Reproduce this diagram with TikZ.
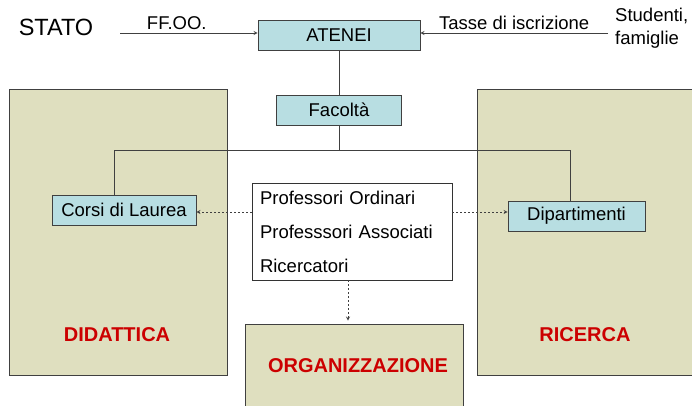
\documentclass[tikz,border=0pt]{standalone}
\usepackage{fontspec}
\setmainfont{Liberation Sans}
\usetikzlibrary{shapes.geometric, arrows, positioning}
\definecolor{boxblue}{RGB}{184,222,226}
\definecolor{areaolive}{RGB}{223,223,191}
\definecolor{areared}{RGB}{204,0,0}
\tikzstyle{txt} = [inner sep=2pt, font=\fontsize{18.5}{23}\selectfont]
\tikzstyle{unit} = [rectangle, minimum height=30pt, text centered, draw=black!75, line width=0.8pt, fill=boxblue, font=\fontsize{18.5}{23}\selectfont]
\tikzstyle{area} = [rectangle, minimum width=218pt, minimum height=286pt, draw=black!75, line width=0.8pt, fill=areaolive]
\tikzstyle{areatitle} = [text=areared, font=\fontsize{20}{24}\selectfont\bfseries]
\tikzstyle{staff} = [rectangle, minimum width=200pt, minimum height=97pt, text width=184pt, align=left, draw=black!80, line width=0.8pt, fill=white, font=\fontsize{18.5}{34}\selectfont]
\tikzstyle{line} = [draw=black!75, line width=0.8pt]
\tikzstyle{arrow} = [line, ->, >=stealth]
\tikzstyle{dotarrow} = [line, densely dashed, dash pattern=on 2pt off 2pt, ->, >=stealth]

\begin{document}
\begin{tikzpicture}[x=1pt, y=-1pt]
\useasboundingbox (0,0) rectangle (692,406);
\clip (0,0) rectangle (692,406);

% Areas
\node (didattica) [area] at (118,232) {};
\node (ricerca) [area, minimum width=240pt] at (597,232) {};
\node (organ) [area, minimum height=100pt] at (354.5,374) {};
\node [areatitle] at (117,335) {DIDATTICA};
\node [areatitle] at (585,335) {RICERCA};
\node [areatitle] at (358,366) {ORGANIZZAZIONE};

% Nodes
\node (stato) [txt, font=\fontsize{23.5}{28}\selectfont] at (56,27) {STATO};
\node (atenei) [unit, minimum width=162pt] at (339,35.5) {ATENEI};
\node (studenti) [txt, anchor=west, align=left] at (613,28.5) {Studenti,\\famiglie};
\node (facolta) [unit, minimum width=125pt, below of=atenei, node distance=74.5pt] {Facoltà};
\node (corsi) [unit, minimum width=144pt] at (124,210) {Corsi di Laurea};
\node (dip) [unit, minimum width=137pt] at (576.5,216) {Dipartimenti};
\node (prof) [staff] at (352,231.5) {Professori Ordinari\\Professsori Associati\\Ricercatori};

\coordinate (statoout) at (120,33);
\coordinate (studout) at (608,33);
\coordinate (split) at (339,150);
\coordinate (jl) at (114,150);
\coordinate (jr) at (570,150);

% Arrows
\draw [arrow] (statoout) -- node[txt, above, xshift=-12pt, yshift=1pt] {FF.OO.} (statoout -| atenei.west);
\draw [arrow] (studout) -- node[txt, above, yshift=1pt] {Tasse di iscrizione} (studout -| atenei.east);
\draw [line] (atenei) -- (facolta);
\draw [line] (facolta) -- (split);
\draw [line] (jl |- corsi.north) -- (jl) -- (jr) -- (jr |- dip.north);

% Staff flow
\draw [dotarrow] ([yshift=19.5pt]prof.west) -- ([yshift=19.5pt]prof.west -| corsi.east);
\draw [dotarrow] ([yshift=19.5pt]prof.east) -- ([yshift=19.5pt]prof.east -| dip.west);
\draw [dotarrow, shorten >=3pt] ([xshift=-4pt]prof.south) -- ([xshift=-4pt]prof.south |- organ.north);

\end{tikzpicture}
\end{document}
